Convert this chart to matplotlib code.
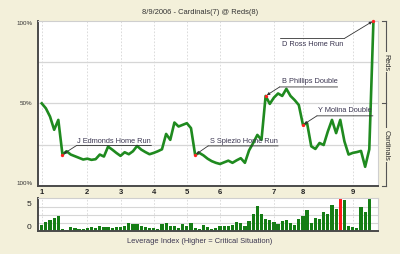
import matplotlib
matplotlib.use("Agg")
import matplotlib.pyplot as plt
from matplotlib import transforms

plt.rcParams['font.family'] = ['Liberation Sans', 'DejaVu Sans']

# ---- data ----
# Reds win probability after each plate appearance (0 = Cardinals win, 1 = Reds win)
win_prob = [0.50, 0.47, 0.42, 0.34, 0.40, 0.19, 0.21, 0.19, 0.18, 0.17,
            0.16, 0.165, 0.158, 0.162, 0.19, 0.178, 0.238, 0.22, 0.20, 0.182,
            0.204, 0.192, 0.21, 0.242, 0.22, 0.205, 0.192, 0.20, 0.21, 0.222,
            0.315, 0.279, 0.384, 0.36, 0.37, 0.38, 0.35, 0.188, 0.20, 0.185,
            0.165, 0.15, 0.14, 0.133, 0.143, 0.153, 0.14, 0.155, 0.168, 0.14,
            0.215, 0.26, 0.309, 0.279, 0.545, 0.497, 0.535, 0.56, 0.545, 0.588,
            0.545, 0.52, 0.49, 0.37, 0.38, 0.24, 0.224, 0.26, 0.248, 0.33,
            0.40, 0.32, 0.40, 0.27, 0.19, 0.20, 0.205, 0.212, 0.116, 0.222, 1.0]

# leverage index per plate appearance
leverage = [1.1, 1.75, 2.1, 2.4, 2.8, 0.3, 0.2, 0.8, 0.56, 0.44,
            0.44, 0.5, 0.75, 0.5, 0.88, 0.7, 0.75, 0.56, 0.75, 0.8,
            0.88, 1.44, 1.3, 1.2, 0.88, 0.75, 0.56, 0.5, 0.38, 1.3,
            1.44, 1.0, 1.0, 0.62, 1.25, 0.88, 1.56, 0.5, 0.44, 1.1,
            0.8, 0.44, 0.62, 0.88, 0.88, 0.88, 1.1, 1.75, 1.44, 0.94,
            1.8, 3.2, 4.56, 3.2, 2.3, 1.94, 1.6, 1.25, 1.9, 1.94,
            1.56, 1.06, 2.3, 2.7, 3.8, 1.56, 2.44, 2.3, 3.6, 3.06,
            4.75, 4.1, 6.1, 5.7, 0.94, 0.8, 0.56, 4.5, 3.5, 6.06]
highlight_pa = 72

inning_start = [0, 11, 19, 27, 35, 43, 56, 63, 75]
inning_labels = ["1", "2", "3", "4", "5", "6", "7", "8", "9"]

event_idx = [5, 37, 54, 63, 80]
event_names = ["J Edmonds Home Run", "S Spiezio Home Run", "B Phillips Double",
               "Y Molina Double", "D Ross Home Run"]

title = "8/9/2006 - Cardinals(7) @ Reds(8)"

# ---- styling ----
bg = "#f3f0da"
green = "#1f8a1f"
bar_green = "#157d15"
grid_c = "#d6d6d6"
dark = "#4a4a4a"
txt_c = "#3a3550"

fig = plt.figure(figsize=(4, 2.54), dpi=100, facecolor=bg)
ax = fig.add_axes([0.095, 0.268, 0.85, 0.65])
ax2 = fig.add_axes([0.095, 0.0906, 0.85, 0.13])

xs = list(range(len(win_prob)))
xlim = (-0.9, 81.1)

# main win probability chart
ax.set_xlim(xlim)
ax.set_ylim(0, 1)
for lvl in [0.25, 0.5, 0.75]:
    ax.axhline(lvl, color=grid_c, lw=0.9, zorder=0)
ax.set_xticks(inning_start)
ax.set_xticklabels(inning_labels, fontsize=5.5, fontweight="bold", color="#222222")
ax.xaxis.grid(True, ls=(0, (2, 2)), color=grid_c, lw=0.6)
ax.tick_params(axis="x", length=0, pad=2)
ax.set_yticks([0, 0.5, 1])
ax.set_yticklabels(["100%", "50%", "100%"], fontsize=4.5, color="#333333")
ax.tick_params(axis="y", length=0, pad=4)
ylbl = ax.get_yticklabels()
ylbl[0].set_va("bottom")
ylbl[2].set_va("top")
for s in ["top", "right"]:
    ax.spines[s].set_color("#cfcfcf")
    ax.spines[s].set_linewidth(0.8)
for s in ["left", "bottom"]:
    ax.spines[s].set_color(dark)
    ax.spines[s].set_linewidth(1.4)

ax.plot(xs, win_prob, color=green, lw=1.9, solid_joinstyle="round", zorder=3)

# event annotations: (diagonal end, underline end, text pos) in pixels from point
ann_style = {
    "J Edmonds Home Run": ((14, 9), 89, (14.5, 13.5)),
    "S Spiezio Home Run": ((13, 9), 83, (15, 13)),
    "B Phillips Double": ((14, 9), 72, (16, 14)),
    "Y Molina Double": ((14, 9), 70, (15, 14.5)),
    "D Ross Home Run": ((-29, -17.6), -93, (-91.6, -24)),
}
for idx, name in zip(event_idx, event_names):
    pt = (xs[idx], win_prob[idx])
    (dx, dy), ul_end, (tx, ty) = ann_style[name]
    ax.annotate("", xy=pt, xytext=(dx, dy), textcoords="offset pixels",
                arrowprops=dict(arrowstyle="-|>", color="#333333", lw=0.6,
                                mutation_scale=4, shrinkA=0, shrinkB=1),
                zorder=4)
    a = transforms.offset_copy(ax.transData, fig=fig, x=dx, y=dy, units="dots")
    b = transforms.offset_copy(ax.transData, fig=fig, x=ul_end, y=dy, units="dots")
    ax.annotate("", xy=pt, xycoords=a, xytext=pt, textcoords=b,
                arrowprops=dict(arrowstyle="-", color="#333333", lw=0.6,
                                shrinkA=0, shrinkB=0))
    ax.annotate(name, xy=pt, xytext=(tx, ty), textcoords="offset pixels",
                ha="left", va="center", fontsize=5.3, color=txt_c, zorder=5)
    ax.plot(pt[0], pt[1], "o", color="#ff2020", ms=2.4, mec="none",
            zorder=6, clip_on=False)

# Reds / Cardinals bracket on the right
bx = 1.0226
ax.plot([bx, bx], [0, 1], color="#555555", lw=0.8, transform=ax.transAxes, clip_on=False)
for yy in [0, 0.5, 1]:
    ax.plot([1.011, bx], [yy, yy], color="#555555", lw=0.8,
            transform=ax.transAxes, clip_on=False)
for yy, lab in [(0.748, "Reds"), (0.248, "Cardinals")]:
    ax.text(bx, yy, lab, rotation=270, ha="center", va="center", fontsize=5.3,
            color="#2a2a2a", transform=ax.transAxes,
            bbox=dict(facecolor=bg, edgecolor="none", pad=1))

# leverage index bars
ax2.set_xlim(xlim)
ax2.set_ylim(0, 6.1)
for lvl in [1.5, 3, 4.5]:
    ax2.axhline(lvl, color=grid_c, lw=0.8, zorder=0)
ax2.set_xticks(inning_start)
ax2.set_xticklabels([])
ax2.xaxis.grid(True, ls=(0, (2, 2)), color=grid_c, lw=0.6)
ax2.tick_params(axis="x", length=0)
bar_cols = ["#ff1a1a" if i == highlight_pa else bar_green for i in range(len(leverage))]
ax2.bar(range(len(leverage)), leverage, width=0.78, color=bar_cols, zorder=2)
ax2.set_yticks([0, 5])
ax2.set_yticklabels(["0", "5"], fontsize=6, color="#222222")
ax2.get_yticklabels()[0].set_va("bottom")
ax2.tick_params(axis="y", length=0, pad=5)
for s in ["top", "right"]:
    ax2.spines[s].set_color("#cfcfcf")
    ax2.spines[s].set_linewidth(0.8)
for s in ["left", "bottom"]:
    ax2.spines[s].set_color(dark)
    ax2.spines[s].set_linewidth(1.4)

fig.text(0.499, 0.95, title, ha="center", va="center", fontsize=5.4, color="#333333")
fig.text(0.5, 0.051, "Leverage Index (Higher = Critical Situation)", ha="center",
         va="center", fontsize=5.4, color=txt_c)

fig.savefig("out.png", dpi=100, facecolor=bg)
